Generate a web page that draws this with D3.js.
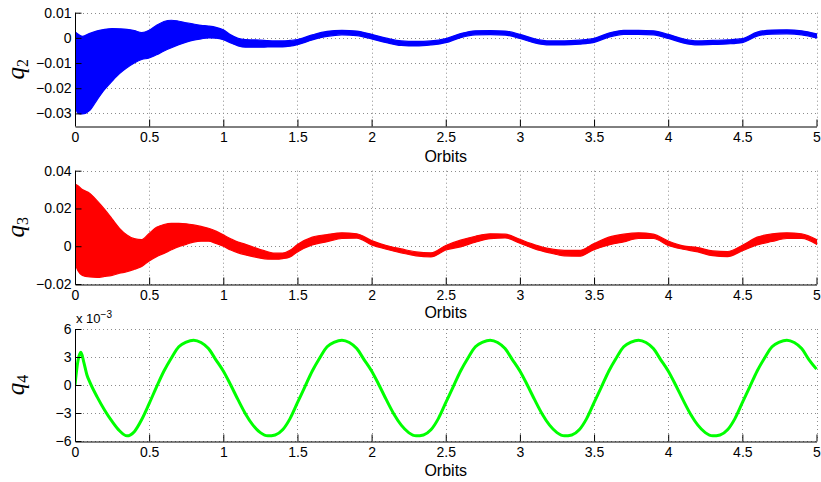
<!DOCTYPE html>
<html><head><meta charset="utf-8">
<script src="https://cdn.jsdelivr.net/npm/d3@7"></script>
<style>
body{margin:0;background:#fff;}
svg text{font-family:"Liberation Sans",Arial,Helvetica,sans-serif;}
</style></head>
<body><svg id="c" width="821" height="482"></svg>
<script>
// ---------- data ----------
const xTicks = [0,0.5,1,1.5,2,2.5,3,3.5,4,4.5,5];
const q2Ticks = [-0.03,-0.02,-0.01,0,0.01];
const q3Ticks = [-0.02,0,0.02,0.04];
const q4Ticks = [-6,-3,0,3,6];
const q2TickLabels = ["\u22120.03","\u22120.02","\u22120.01","0","0.01"];
const q3TickLabels = ["\u22120.02","0","0.02","0.04"];
const q4TickLabels = ["\u22126","\u22123","0","3","6"];

const bandT = [0,0.02,0.05,0.10,0.15,0.20,0.25,0.30,0.35,0.40,0.45,0.50,0.55,0.60,0.65,0.70,0.75,0.80,0.85,0.90,0.95,1.00,1.05,1.10,1.15,1.20,1.25,1.30,1.35,1.40,1.45,1.50,
  1.6,1.7,1.8,1.9,2.0,2.1,2.2,2.3,2.4,2.5,2.6,2.7,2.8,2.9,3.0,3.1,3.2,3.3,3.4,3.5,3.6,3.7,3.8,3.9,4.0,4.1,4.2,4.3,4.4,4.5,4.6,4.7,4.8,4.9,5.0];

const q2Upper = [0.0025,0.0015,0.0006,0.0018,0.0028,0.0034,0.0037,0.0036,0.0034,0.0029,0.0021,0.0030,0.0050,0.0065,0.0070,0.0066,0.0060,0.0055,0.0050,0.0047,0.0042,0.0032,0.0012,-0.0002,-0.0007,-0.0008,-0.0009,-0.0011,-0.0012,-0.0012,-0.0010,-0.0007,
  0.0012,0.0026,0.0030,0.0027,0.0014,-0.0001,-0.0012,-0.0014,-0.0012,-0.0003,0.0017,0.0028,0.0029,0.0027,0.0014,-0.0004,-0.0012,-0.0012,-0.0009,-0.0002,0.0019,0.0030,0.0030,0.0028,0.0014,-0.0004,-0.0012,-0.0010,-0.0008,-0.0003,0.0023,0.0031,0.0032,0.0028,0.0016];
const q2Lower = [-0.0270,-0.0300,-0.0302,-0.0288,-0.0245,-0.0205,-0.0172,-0.0142,-0.0119,-0.0100,-0.0086,-0.0080,-0.0067,-0.0052,-0.0039,-0.0027,-0.0017,-0.0009,-0.0004,0.0000,-0.0001,-0.0007,-0.0020,-0.0032,-0.0037,-0.0037,-0.0037,-0.0036,-0.0036,-0.0036,-0.0033,-0.0027,
  -0.0008,0.0006,0.0012,0.0009,-0.0004,-0.0019,-0.0030,-0.0032,-0.0028,-0.0019,0.0001,0.0012,0.0013,0.0011,-0.0002,-0.0020,-0.0028,-0.0028,-0.0025,-0.0018,0.0003,0.0014,0.0014,0.0012,-0.0002,-0.0020,-0.0028,-0.0026,-0.0024,-0.0019,0.0007,0.0015,0.0016,0.0012,0.0000];

const q3Upper = [0.0330,0.0320,0.0300,0.0280,0.0240,0.0195,0.0145,0.0095,0.0060,0.0040,0.0035,0.0068,0.0100,0.0115,0.0121,0.0121,0.0119,0.0113,0.0105,0.0095,0.0080,0.0060,0.0040,0.0022,0.0010,-0.0004,-0.0018,-0.0029,-0.0037,-0.0036,-0.0021,0.0009,
  0.0048,0.0062,0.0071,0.0066,0.0030,0.0004,-0.0014,-0.0030,-0.0035,0.0004,0.0032,0.0053,0.0066,0.0064,0.0036,0.0008,-0.0013,-0.0022,-0.0022,0.0014,0.0048,0.0064,0.0071,0.0064,0.0028,0.0002,-0.0007,-0.0025,-0.0028,0.0005,0.0048,0.0065,0.0071,0.0065,0.0036];
const q3Lower = [-0.0090,-0.0130,-0.0155,-0.0163,-0.0165,-0.0160,-0.0154,-0.0143,-0.0135,-0.0122,-0.0107,-0.0078,-0.0055,-0.0038,-0.0019,-0.0002,0.0010,0.0022,0.0027,0.0027,0.0015,0.0000,-0.0020,-0.0035,-0.0046,-0.0055,-0.0063,-0.0068,-0.0069,-0.0066,-0.0057,-0.0030,
  0.0007,0.0024,0.0041,0.0043,0.0007,-0.0016,-0.0035,-0.0051,-0.0057,-0.0020,-0.0003,0.0021,0.0040,0.0044,0.0016,-0.0014,-0.0035,-0.0051,-0.0053,-0.0018,0.0007,0.0023,0.0041,0.0041,0.0004,-0.0016,-0.0030,-0.0050,-0.0055,-0.0024,0.0007,0.0025,0.0041,0.0042,0.0011];

const q4T = [0,0.02,0.04,0.06,0.08,0.10,0.15,0.20,0.25,0.30,0.35,0.40,0.45,0.50,0.55,0.60,0.65,0.70,0.75,0.80,0.85,0.90,0.95,
  1.00,1.05,1.10,1.15,1.20,1.25,1.30,1.35,1.40,1.45,1.50,1.55,1.60,1.65,1.70,1.75,1.80,1.85,1.90,1.95,
  2.00,2.05,2.10,2.15,2.20,2.25,2.30,2.35,2.40,2.45,2.50,2.55,2.60,2.65,2.70,2.75,2.80,2.85,2.90,2.95,
  3.00,3.05,3.10,3.15,3.20,3.25,3.30,3.35,3.40,3.45,3.50,3.55,3.60,3.65,3.70,3.75,3.80,3.85,3.90,3.95,
  4.00,4.05,4.10,4.15,4.20,4.25,4.30,4.35,4.40,4.45,4.50,4.55,4.60,4.65,4.70,4.75,4.80,4.85,4.90,4.95,5.00];
// q4 in units of 1e-3
const q4 = [0,2.6,3.5,2.4,1.1,0.3,-1.3,-2.7,-3.9,-4.9,-5.45,-5.0,-3.7,-2.0,-0.2,1.5,2.9,4.1,4.6,4.8,4.55,3.9,2.7,
  1.5,0.0,-1.6,-3.1,-4.3,-5.1,-5.45,-5.35,-4.8,-3.6,-1.9,-0.2,1.5,2.9,4.1,4.6,4.8,4.55,3.9,2.7,
  1.5,0.0,-1.6,-3.1,-4.3,-5.1,-5.45,-5.35,-4.8,-3.6,-1.9,-0.2,1.5,2.9,4.1,4.6,4.8,4.55,3.9,2.7,
  1.5,0.0,-1.6,-3.1,-4.3,-5.1,-5.45,-5.35,-4.8,-3.6,-1.9,-0.2,1.5,2.9,4.1,4.6,4.8,4.55,3.9,2.7,
  1.5,0.0,-1.6,-3.1,-4.3,-5.1,-5.45,-5.35,-4.8,-3.6,-1.9,-0.2,1.5,2.9,4.1,4.6,4.8,4.55,3.9,2.7,1.7];

// ---------- layout ----------
const svg = d3.select("#c");
const L = 75, R = 816.5;
const x = d3.scaleLinear().domain([0,5]).range([L,R]);

const panels = [
  {top:12.7, bottom:126, domain:[-0.035,0.01], ticks:q2Ticks, labels:q2TickLabels, sub:"2", color:"#0000ff", type:"band", up:q2Upper, lo:q2Lower, xlabY:36},
  {top:170.7, bottom:284, domain:[-0.02,0.04], ticks:q3Ticks, labels:q3TickLabels, sub:"3", color:"#ff0000", type:"band", up:q3Upper, lo:q3Lower, xlabY:34},
  {top:329, bottom:441, domain:[-6,6], ticks:q4Ticks, labels:q4TickLabels, sub:"4", color:"#00ff00", type:"line", vals:q4, xlabY:35, exp:true}
];

panels.forEach((p,i)=>{
  const y = d3.scaleLinear().domain(p.domain).range([p.bottom,p.top]);
  const g = svg.append("g");
  const clipId = "clip"+i;
  svg.append("clipPath").attr("id",clipId).append("rect")
    .attr("x",L).attr("y",p.top-3).attr("width",R-L+2).attr("height",p.bottom-p.top+3);

  // grid
  const grid = g.append("g").attr("stroke","#8c8c8c").attr("stroke-width",1).attr("stroke-dasharray","1,3");
  xTicks.forEach(t=>{
    grid.append("line").attr("x1",Math.round(x(t))+0.5).attr("x2",Math.round(x(t))+0.5)
      .attr("y1",p.top).attr("y2",p.bottom);
  });
  p.ticks.forEach(t=>{
    grid.append("line").attr("y1",Math.round(y(t))+0.5).attr("y2",Math.round(y(t))+0.5)
      .attr("x1",L).attr("x2",R);
  });

  // data
  const dg = g.append("g").attr("clip-path","url(#"+clipId+")");
  if(p.type==="band"){
    const area = d3.area().x((d,k)=>x(bandT[k])).y0((d,k)=>y(p.lo[k])).y1((d,k)=>y(p.up[k])).curve(d3.curveMonotoneX);
    dg.append("path").datum(bandT).attr("d",area).attr("fill",p.color).attr("stroke",p.color).attr("stroke-width",1.2);
  } else {
    const line = d3.line().x((d,k)=>x(q4T[k])).y((d,k)=>y(p.vals[k])).curve(d3.curveMonotoneX);
    dg.append("path").datum(q4T).attr("d",line).attr("fill","none").attr("stroke",p.color).attr("stroke-width",3).attr("stroke-linejoin","round");
  }

  // axes
  const xa = d3.axisBottom(x).tickValues(xTicks).tickSizeInner(-7).tickSizeOuter(0).tickPadding(10)
    .tickFormat(d=>d3.format("")(d));
  const xg = g.append("g").attr("transform",`translate(0,${Math.round(p.bottom)+0.5})`).call(xa);
  xg.select(".domain").attr("stroke","#000");
  xg.selectAll("line").attr("stroke","#000");
  xg.selectAll("text").attr("font-size",14).attr("fill","#000").attr("dy","0.71em").attr("y",6);

  const ya = d3.axisLeft(y).tickValues(p.ticks).tickSizeInner(-6).tickSizeOuter(0).tickPadding(4)
    .tickFormat((d,k)=>p.labels[k]);
  const yg = g.append("g").attr("transform",`translate(${Math.round(L)+0.5},0)`).call(ya);
  yg.select(".domain").attr("stroke","#000").attr("d",`M0,${p.top}V${Math.round(p.bottom)}`);
  yg.selectAll("line").attr("stroke","#000");
  yg.selectAll("text").attr("font-size",14).attr("fill","#000").attr("x",-4);

  // x label
  g.append("text").attr("x",(L+R)/2).attr("y",p.bottom+p.xlabY).attr("text-anchor","middle")
    .attr("font-size",16).attr("fill","#000").text("Orbits");

  // y label
  const yl = g.append("text").attr("transform",`translate(23.5,${(p.top+p.bottom)/2}) rotate(-90)`)
    .attr("text-anchor","middle").attr("fill","#000");
  yl.append("tspan").attr("font-family","'Liberation Serif','Times New Roman',serif").attr("font-style","italic").attr("font-size",25).text("q");
  yl.append("tspan").attr("font-family","'Liberation Serif','Times New Roman',serif").attr("font-size",16).attr("dy",4).text(p.sub);

  if(p.exp){
    const e = g.append("text").attr("x",76).attr("y",p.top-6).attr("font-size",13).attr("fill","#000");
    e.append("tspan").text("x 10");
    e.append("tspan").attr("font-size",10).attr("dy",-5).text("\u22123");
  }
});
</script></body></html>
